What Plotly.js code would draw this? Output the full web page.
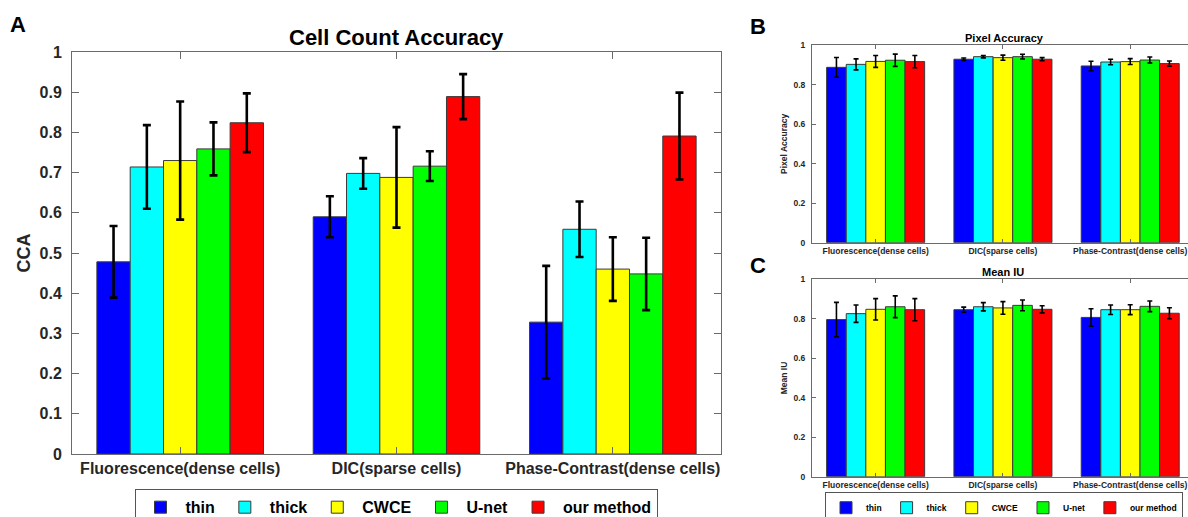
<!DOCTYPE html>
<html>
<head>
<meta charset="utf-8">
<script src="https://cdn.plot.ly/plotly-3.0.1.min.js"></script>
<style>html,body{margin:0;padding:0;background:#fff;}#chart{width:1188px;height:517px;}</style>
</head>
<body>
<div id="chart"></div>
<script>
// ---- data ----
const categories = ['Fluorescence(dense cells)', 'DIC(sparse cells)', 'Phase-Contrast(dense cells)'];
const methods = ['thin', 'thick', 'CWCE', 'U-net', 'our method'];
const colors = ['#0000FF', '#00FFFF', '#FFFF00', '#00FF00', '#FF0000'];

// Cell Count Accuracy (per method, per category)
const ccaMean = [
  [0.478, 0.590, 0.328],
  [0.714, 0.698, 0.559],
  [0.730, 0.688, 0.460],
  [0.759, 0.716, 0.448],
  [0.824, 0.889, 0.791]
];
const ccaErr = [
  [0.089, 0.051, 0.140],
  [0.104, 0.038, 0.069],
  [0.147, 0.125, 0.079],
  [0.066, 0.037, 0.090],
  [0.073, 0.056, 0.108]
];
// Pixel Accuracy
const paMean = [
  [0.887, 0.928, 0.894],
  [0.902, 0.941, 0.914],
  [0.917, 0.936, 0.916],
  [0.923, 0.941, 0.924],
  [0.916, 0.928, 0.906]
];
const paErr = [
  [0.050, 0.006, 0.024],
  [0.028, 0.006, 0.014],
  [0.030, 0.013, 0.015],
  [0.031, 0.012, 0.015],
  [0.031, 0.008, 0.013]
];
// Mean IU
const iuMean = [
  [0.796, 0.846, 0.807],
  [0.826, 0.861, 0.846],
  [0.848, 0.855, 0.846],
  [0.861, 0.868, 0.863],
  [0.846, 0.848, 0.828]
];
const iuErr = [
  [0.087, 0.013, 0.044],
  [0.044, 0.021, 0.024],
  [0.054, 0.032, 0.025],
  [0.055, 0.027, 0.027],
  [0.056, 0.018, 0.028]
];

// ---- traces ----
const FONT = 'Liberation Sans, Arial, sans-serif';
const traces = [];
function addPanel(means, errs, xa, ya, legendName, showLeg, errThick, errWidth) {
  methods.forEach((m, i) => {
    traces.push({
      type: 'bar',
      name: m,
      x: categories,
      y: means[i],
      xaxis: xa, yaxis: ya,
      legend: legendName,
      showlegend: showLeg,
      marker: {color: colors[i], line: {color: '#3a3a3a', width: 1}},
      error_y: {type: 'data', array: errs[i], visible: true, color: '#000', thickness: errThick, width: errWidth},
      hoverinfo: 'y'
    });
  });
}
addPanel(ccaMean, ccaErr, 'x', 'y', 'legend', true, 2.6, 4);
addPanel(paMean, paErr, 'x2', 'y2', 'legend2', false, 1.6, 2.5);
addPanel(iuMean, iuErr, 'x3', 'y3', 'legend2', true, 1.6, 2.5);

const W = 1188, H = 517;
const px = v => v / W;
const py = v => (H - v) / H;

function xAxis(domain, range, fsize, ticklen, anchor) {
  return {
    domain: domain, range: range, anchor: anchor, type: 'category', automargin: false,
    showline: true, linecolor: '#6a6a6a', linewidth: 1, mirror: 'ticks',
    ticks: 'inside', ticklen: ticklen, tickcolor: '#6a6a6a',
    tickfont: {family: FONT, size: fsize, weight: 'bold', color: '#262626'},
    showgrid: false, zeroline: false, fixedrange: true
  };
}
function yAxis(domain, dtick, fsize, ticklen, anchor, mirror, title, tsize, standoff) {
  return {
    domain: domain, range: [0, 1], anchor: anchor, dtick: dtick, tick0: 0, automargin: false,
    showline: true, linecolor: '#6a6a6a', linewidth: 1, mirror: mirror,
    ticks: 'inside', ticklen: ticklen, tickcolor: '#6a6a6a',
    tickfont: {family: FONT, size: fsize, weight: 'bold', color: '#262626'},
    ticklabelstandoff: standoff,
    title: {text: title, font: {family: FONT, size: tsize, weight: 'bold', color: '#262626'}, standoff: 4},
    showgrid: false, zeroline: false, fixedrange: true
  };
}

const layout = {
  width: W, height: H,
  margin: {l: 0, r: 0, t: 0, b: 0, autoexpand: false},
  paper_bgcolor: '#fff', plot_bgcolor: '#fff',
  barmode: 'group', bargap: 0.23, bargroupgap: 0,
  font: {family: FONT},
  xaxis: xAxis([px(72), px(721)], [-0.5, 2.5], 16, 7, 'y'),
  yaxis: yAxis([py(454), py(52)], 0.1, 16, 7, 'x', 'ticks', 'CCA', 18, 6),
  xaxis2: xAxis([px(812), 1], [-0.5, 2.454], 8.5, 4, 'y2'),
  yaxis2: yAxis([py(242.7), py(45)], 0.2, 8.5, 4, 'x2', false, 'Pixel Accuracy', 8.5, 4),
  xaxis3: xAxis([px(812), 1], [-0.5, 2.454], 8.5, 4, 'y3'),
  yaxis3: yAxis([py(476.7), py(279.3)], 0.2, 8.5, 4, 'x3', false, 'Mean IU', 8.5, 4),
  legend: {
    orientation: 'h', x: px(396), xanchor: 'center', y: -0.016, yanchor: 'bottom',
    bordercolor: '#555', borderwidth: 1, bgcolor: '#fff', itemwidth: 40, tracegroupgap: 0,
    font: {family: FONT, size: 16, weight: 'bold', color: '#000'},
    itemclick: false, itemdoubleclick: false, traceorder: 'normal'
  },
  legend2: {
    orientation: 'h', x: px(1004), xanchor: 'center', y: -0.012, yanchor: 'bottom',
    bordercolor: '#555', borderwidth: 1, bgcolor: '#fff', itemwidth: 30, tracegroupgap: 0,
    font: {family: FONT, size: 8.5, weight: 'bold', color: '#000'},
    itemclick: false, itemdoubleclick: false, traceorder: 'normal'
  },
  annotations: [
    {text: 'Cell Count Accuracy', x: px(396), y: py(38), xref: 'paper', yref: 'paper', showarrow: false,
     font: {family: FONT, size: 22, weight: 'bold', color: '#000'}, xanchor: 'center', yanchor: 'middle'},
    {text: 'Pixel Accuracy', x: px(1004), y: py(38), xref: 'paper', yref: 'paper', showarrow: false,
     font: {family: FONT, size: 11, weight: 'bold', color: '#000'}, xanchor: 'center', yanchor: 'middle'},
    {text: 'Mean IU', x: px(1003), y: py(272), xref: 'paper', yref: 'paper', showarrow: false,
     font: {family: FONT, size: 11, weight: 'bold', color: '#000'}, xanchor: 'center', yanchor: 'middle'},
    {text: 'A', x: px(18), y: py(25), xref: 'paper', yref: 'paper', showarrow: false,
     font: {family: FONT, size: 22, weight: 'bold', color: '#000'}, xanchor: 'center', yanchor: 'middle'},
    {text: 'B', x: px(758), y: py(26), xref: 'paper', yref: 'paper', showarrow: false,
     font: {family: FONT, size: 22, weight: 'bold', color: '#000'}, xanchor: 'center', yanchor: 'middle'},
    {text: 'C', x: px(758), y: py(266), xref: 'paper', yref: 'paper', showarrow: false,
     font: {family: FONT, size: 22, weight: 'bold', color: '#000'}, xanchor: 'center', yanchor: 'middle'}
  ]
};

Plotly.newPlot('chart', traces, layout, {displayModeBar: false, staticPlot: true});
</script>
</body>
</html>
